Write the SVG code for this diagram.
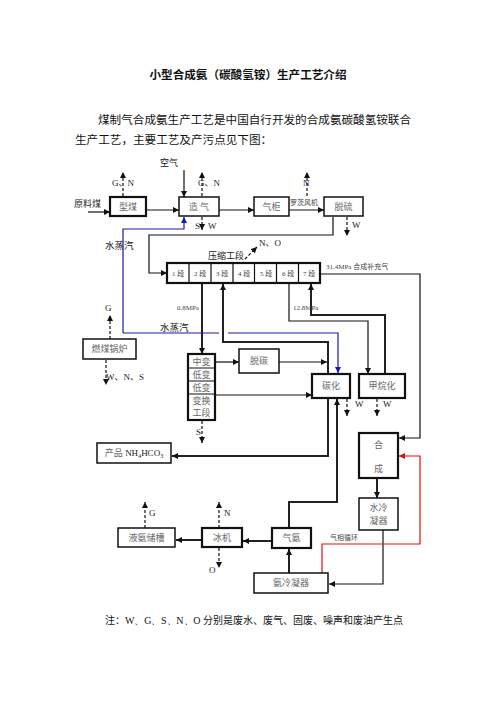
<svg xmlns="http://www.w3.org/2000/svg" width="496" height="702" viewBox="0 0 496 702">
<style>
.bg{fill:#fff}
.box{fill:#fff;stroke:#111;stroke-width:1.5}
.thk{stroke-width:2.2}
.ln{fill:none;stroke:#111;stroke-width:1.2}
.ln2{fill:none;stroke:#222;stroke-width:2}
.ds{fill:none;stroke:#111;stroke-width:1.2;stroke-dasharray:3,2}
.bl{fill:none;stroke:#1a1aa8;stroke-width:1.2}
.rd{fill:none;stroke:#e01010;stroke-width:1.2}
.t{font-family:"Liberation Serif","Noto Sans CJK SC",serif;font-size:9px;fill:#666;text-anchor:middle}
.s{font-family:"Liberation Serif","Noto Sans CJK SC",serif;font-size:7px;fill:#444}
.l{font-family:"Liberation Serif","Noto Sans CJK SC",serif;font-size:9px;fill:#222}
.h{font-family:"Noto Sans CJK SC",sans-serif;fill:#111}
</style>
<defs>
<marker id="a" viewBox="0 0 10 10" refX="10" refY="5" markerWidth="6" markerHeight="6" markerUnits="userSpaceOnUse" orient="auto"><path d="M0,0 L10,5 L0,10 z" fill="#111"/></marker>
<marker id="ab" viewBox="0 0 10 10" refX="10" refY="5" markerWidth="6" markerHeight="6" markerUnits="userSpaceOnUse" orient="auto"><path d="M0,0 L10,5 L0,10 z" fill="#1a1aa8"/></marker>
<marker id="ar" viewBox="0 0 10 10" refX="10" refY="5" markerWidth="6" markerHeight="6" markerUnits="userSpaceOnUse" orient="auto"><path d="M0,0 L10,5 L0,10 z" fill="#e01010"/></marker>
</defs>
<rect class="bg" x="0" y="0" width="496" height="702"/>

<text class="h" x="248" y="79" font-size="11.6" font-weight="bold" text-anchor="middle">小型合成氨（碳酸氢铵）生产工艺介绍</text>
<text class="h" x="98" y="124" font-size="11.6">煤制气合成氨生产工艺是中国自行开发的合成氨碳酸氢铵联合</text>
<text class="h" x="75" y="144" font-size="11.6">生产工艺，主要工艺及产污点见下图：</text>

<g id="connectors">
<line class="ln" x1="184" y1="170" x2="184" y2="197" marker-end="url(#a)"/>
<line class="ln" x1="88" y1="212" x2="110" y2="212" marker-end="url(#a)"/>
<line class="ln" x1="146" y1="210" x2="179" y2="210" marker-end="url(#a)"/>
<line class="ln" x1="219" y1="210" x2="254" y2="210" marker-end="url(#a)"/>
<line class="ln" x1="289" y1="210" x2="324" y2="210" marker-end="url(#a)"/>
<line class="ds" x1="123" y1="196" x2="123" y2="172" marker-end="url(#a)"/>
<line class="ds" x1="202" y1="196" x2="202" y2="172" marker-end="url(#a)"/>
<line class="ds" x1="307" y1="196" x2="307" y2="172" marker-end="url(#a)"/>
<line class="ds" x1="202" y1="217" x2="202" y2="230" marker-end="url(#a)"/>
<line class="ds" x1="347" y1="217" x2="347" y2="236" marker-end="url(#a)"/>
<polyline class="ln" points="333,217 333,235 149,235 149,273 167,273" marker-end="url(#a)"/>
<polyline class="bl" points="123,333 123,229 184,229 184,217" marker-end="url(#ab)"/>
<line class="bl" x1="123" y1="333" x2="219" y2="333"/>
<polyline class="bl" points="228,333 338,333 338,373" marker-end="url(#ab)"/>
<line class="ds" x1="245" y1="259" x2="257" y2="247" marker-end="url(#a)"/>
<polyline class="ln" points="320,274 420,274 420,438 399,438" marker-end="url(#a)"/>
<polyline class="ln" points="289,283 289,321 368,321 368,374" marker-end="url(#a)"/>
<polyline class="ln2" points="385,374 385,315 311,315 311,284" marker-end="url(#a)"/>
<line class="ln2" x1="202" y1="284" x2="202" y2="354" marker-end="url(#a)"/>
<polyline class="ln2" points="328,374 328,342 223,342 223,284" marker-end="url(#a)"/>
<line class="ln" x1="215" y1="362" x2="239" y2="362" marker-end="url(#a)"/>
<line class="ln" x1="279" y1="362" x2="327" y2="362" marker-end="url(#a)"/>
<line class="ln" x1="215" y1="395" x2="312" y2="395" marker-end="url(#a)"/>
<polyline class="ln2" points="328,399 328,456 172,456" marker-end="url(#a)"/>
<polyline class="ln2" points="289,528 289,502 337,502 337,399" marker-end="url(#a)"/>
<line class="ds" x1="347" y1="399" x2="347" y2="416" marker-end="url(#a)"/>
<line class="ds" x1="377" y1="399" x2="377" y2="416" marker-end="url(#a)"/>
<line class="ds" x1="202" y1="421" x2="202" y2="443" marker-end="url(#a)"/>
<line class="ds" x1="110" y1="339" x2="110" y2="315" marker-end="url(#a)"/>
<line class="ds" x1="106" y1="360" x2="106" y2="385" marker-end="url(#a)"/>
<line class="ln2" x1="377" y1="479" x2="377" y2="498" marker-end="url(#a)"/>
<polyline class="ln" points="383,530 383,584 329,584" marker-end="url(#a)"/>
<polyline class="rd" points="322,573 322,544 420,544 420,456 399,456" marker-end="url(#ar)"/>
<line class="ln2" x1="289" y1="573" x2="289" y2="549" marker-end="url(#a)"/>
<line class="ln2" x1="272" y1="541" x2="243" y2="541" marker-end="url(#a)"/>
<line class="ln2" x1="202" y1="540" x2="176" y2="540" marker-end="url(#a)"/>
<line class="ds" x1="145" y1="528" x2="145" y2="502" marker-end="url(#a)"/>
<line class="ds" x1="219" y1="528" x2="219" y2="502" marker-end="url(#a)"/>
<line class="ds" x1="219" y1="548" x2="219" y2="568" marker-end="url(#a)"/>
</g>

<g id="labels">
<text class="h" x="160" y="166" font-size="9">空气</text>
<text class="l" x="74" y="207" fill="#555">原料煤</text>
<text class="l" x="112" y="186">G、N</text>
<text class="l" x="198" y="186">G、N</text>
<text class="l" x="303" y="186">N</text>
<text class="l" x="195" y="229">S</text>
<text class="l" x="208" y="229">W</text>
<text class="l" x="352" y="228">W</text>
<text class="s" x="290" y="205" font-size="8">罗茨风机</text>
<text class="h" x="105" y="249" font-size="9.5">水蒸汽</text>
<text class="h" x="160" y="331" font-size="9.5">水蒸汽</text>
<text class="l" x="208" y="259" fill="#666">压缩工段</text>
<text class="l" x="259" y="246">N、O</text>
<text class="s" x="326" y="269">31.4MPa 合成补充气</text>
<text class="s" x="177" y="310">0.8MPa</text>
<text class="s" x="293" y="310">12.8MPa</text>
<text class="l" x="105" y="311">G</text>
<text class="l" x="106" y="380">W、N、S</text>
<text class="l" x="196" y="435">S</text>
<text class="l" x="355" y="407">W</text>
<text class="l" x="383" y="407">W</text>
<text class="s" x="330" y="540" font-size="8">气相循环</text>
<text class="l" x="149" y="516">G</text>
<text class="l" x="224" y="516">N</text>
<text class="l" x="209" y="573">O</text>
<text class="h" x="105" y="624" font-size="10.3" textLength="298" lengthAdjust="spacingAndGlyphs">注：<tspan font-family="Liberation Serif">W、G、S、N、O </tspan>分别是废水、废气、固废、噪声和废油产生点</text>
</g>

<g id="n-xingmei"><rect class="box thk" x="110" y="197" width="36" height="19"/><text class="t" x="128" y="210">型煤</text></g>
<g id="n-zaoqi"><rect class="box" x="179" y="197" width="40" height="19"/><text class="t" x="199" y="210">造 气</text></g>
<g id="n-qigui"><rect class="box" x="254" y="197" width="35" height="19"/><text class="t" x="271.5" y="210">气柜</text></g>
<g id="n-tuoliu"><rect class="box" x="324" y="197" width="39" height="19"/><text class="t" x="343.5" y="210">脱硫</text></g>
<g id="n-yasuo">
<rect class="box thk" x="167" y="263" width="153" height="20"/>
<path class="ln" d="M189,263V283M211,263V283M233,263V283M254.5,263V283M276.5,263V283M298.5,263V283"/>
<text class="s" x="178" y="276" text-anchor="middle">1 段</text>
<text class="s" x="200" y="276" text-anchor="middle">2 段</text>
<text class="s" x="222" y="276" text-anchor="middle">3 段</text>
<text class="s" x="244" y="276" text-anchor="middle">4 段</text>
<text class="s" x="266" y="276" text-anchor="middle">5 段</text>
<text class="s" x="288" y="276" text-anchor="middle">6 段</text>
<text class="s" x="309" y="276" text-anchor="middle">7 段</text>
</g>
<g id="n-guolu"><rect class="box" x="83" y="339" width="53" height="20"/><text class="t" x="109.5" y="352">燃煤锅炉</text></g>
<g id="n-bianhuan">
<rect class="box thk" x="188" y="354" width="27" height="66"/>
<path class="ln" d="M188,368H215M188,381H215M188,394H215"/>
<text class="t" x="201.5" y="364.5">中变</text>
<text class="t" x="201.5" y="378">低变</text>
<text class="t" x="201.5" y="391">低变</text>
<text class="t" x="201.5" y="404">变换</text>
<text class="t" x="201.5" y="416">工段</text>
</g>
<g id="n-tuotan"><rect class="box" x="239" y="349" width="40" height="24"/><text class="t" x="259" y="364">脱碳</text></g>
<g id="n-tanhua"><rect class="box thk" x="312" y="374" width="38" height="24"/><text class="t" x="331" y="389">碳化</text></g>
<g id="n-jiawanhua"><rect class="box thk" x="359" y="374" width="46" height="24"/><text class="t" x="382" y="389">甲烷化</text></g>
<g id="n-chanpin"><rect class="box" x="97" y="443" width="74" height="20"/><text class="t" x="134" y="456">产品 <tspan fill="#222">NH<tspan font-size="6" dy="2">4</tspan><tspan dy="-2">HCO</tspan><tspan font-size="6" dy="2">3</tspan></tspan></text></g>
<g id="n-hecheng"><rect class="box thk" x="359" y="433" width="39" height="45"/><text class="t" x="378.5" y="448">合</text><text class="t" x="378.5" y="472">成</text></g>
<g id="n-shuileng"><rect class="box" x="359" y="498" width="39" height="32"/><text class="t" x="378.5" y="511">水冷</text><text class="t" x="378.5" y="524">凝器</text></g>
<g id="n-yeanchucao"><rect class="box" x="118" y="528" width="57" height="19"/><text class="t" x="146.5" y="541">液氨储槽</text></g>
<g id="n-bingji"><rect class="box thk" x="202" y="528" width="40" height="19"/><text class="t" x="222" y="541">冰机</text></g>
<g id="n-qian"><rect class="box thk" x="272" y="528" width="39" height="20"/><text class="t" x="291.5" y="541">气氨</text></g>
<g id="n-anleng"><rect class="box" x="254" y="573" width="74" height="20"/><text class="t" x="291" y="586">氨冷凝器</text></g>
</svg>
